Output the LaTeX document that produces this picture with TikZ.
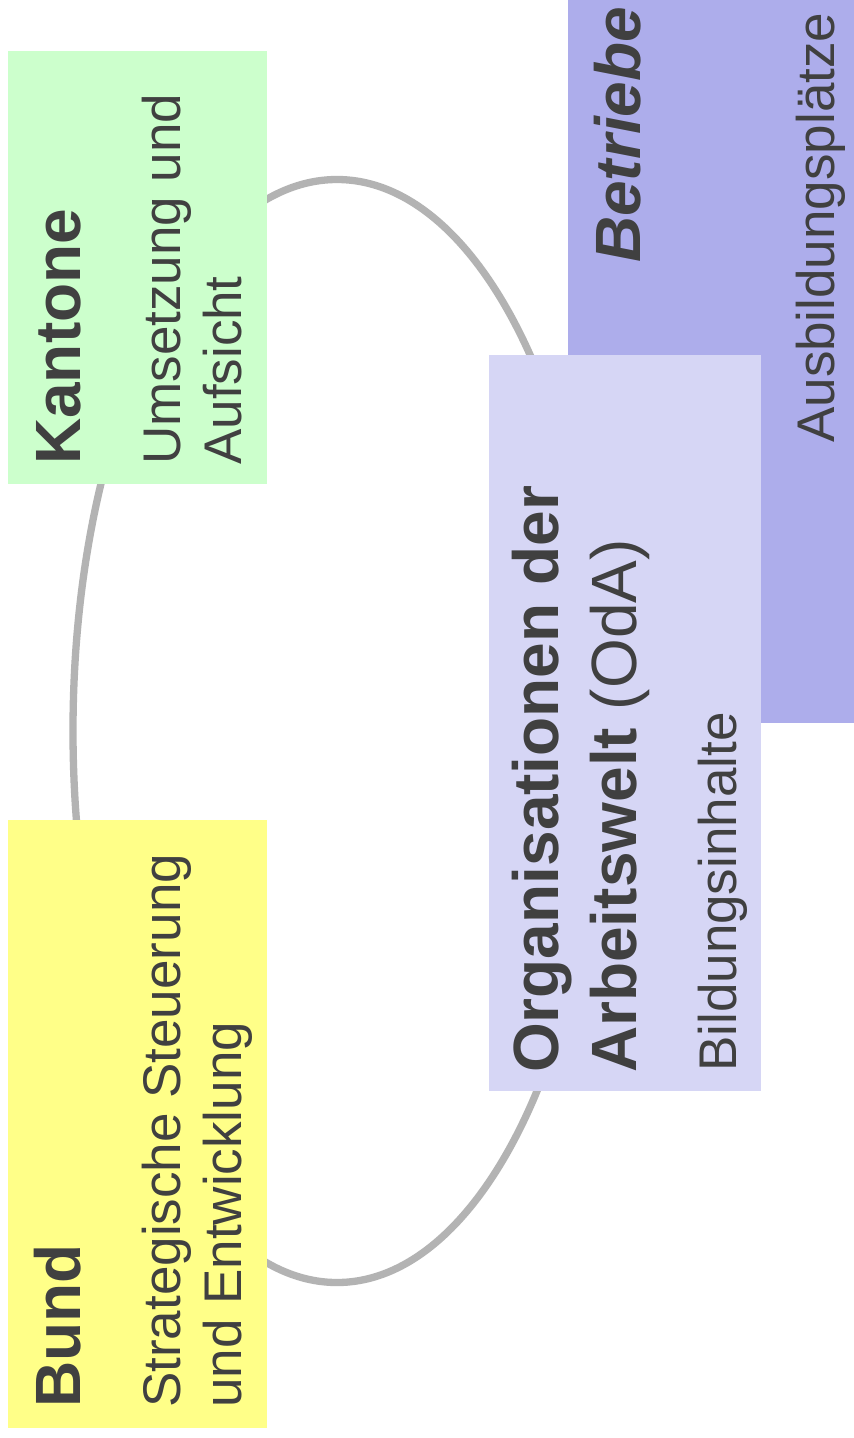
\documentclass[tikz,border=0pt]{standalone}
\usepackage{fontspec}
\usetikzlibrary{shapes.geometric}
\setmainfont{Liberation Sans}
\definecolor{txt}{HTML}{404040}
\definecolor{kgreen}{HTML}{CCFFCC}
\definecolor{byellow}{HTML}{FFFF88}
\definecolor{olav}{HTML}{D6D6F5}
\definecolor{bblue}{HTML}{ADADEB}
\definecolor{ring}{HTML}{B3B3B3}
\begin{document}
\begin{tikzpicture}[x=1pt,y=-1pt,
  box/.style={draw=none,inner sep=0pt,anchor=north west},
  head/.style={rotate=90,anchor=base west,inner sep=0pt,text=txt,font=\fontsize{64}{77}\selectfont\bfseries},
  sub/.style={rotate=90,anchor=base west,inner sep=0pt,text=txt,font=\fontsize{53}{60}\selectfont}]
\useasboundingbox (0,0) rectangle (854,1438);
\fill[white] (0,0) rectangle (854,1438);
\node[draw=ring,line width=7.3pt,ellipse,inner sep=0pt,minimum width=528pt,minimum height=1103pt] (ring) at (337,731) {};
\node[box,fill=bblue,minimum width=286pt,minimum height=723pt] (bbox) at (568,0) {};
\node[box,fill=olav,minimum width=272pt,minimum height=736pt] (obox) at (489,355) {};
\node[box,fill=kgreen,minimum width=259pt,minimum height=433pt] (kbox) at (8,51) {};
\node[box,fill=byellow,minimum width=259pt,minimum height=608pt] (bubox) at (8,820) {};
% Kantone
\node[head] (k1) at (80,465) {Kantone};
\node[sub] (k2) at (180,465) {Umsetzung und};
\node[sub] (k3) at (241,465) {Aufsicht};
% Bund
\node[head] (b1) at (80,1408) {Bund};
\node[sub] (b2) at (180,1408) {Strategische Steuerung};
\node[sub] (b3) at (241,1408) {und Entwicklung};
% OdA
\node[head] (o1) at (558,1073) {Organisationen der};
\node[head] (o2) at (636,1073) {Arbeitswelt \mdseries(OdA)};
\node[sub] (o3) at (736,1072) {Bildungsinhalte};
% Betriebe
\node[head,font=\fontsize{64}{77}\selectfont\bfseries\itshape] (be1) at (640,263) {Betriebe};
\node[sub] (be2) at (834,443) {Ausbildungsplätze};
\end{tikzpicture}
\end{document}
